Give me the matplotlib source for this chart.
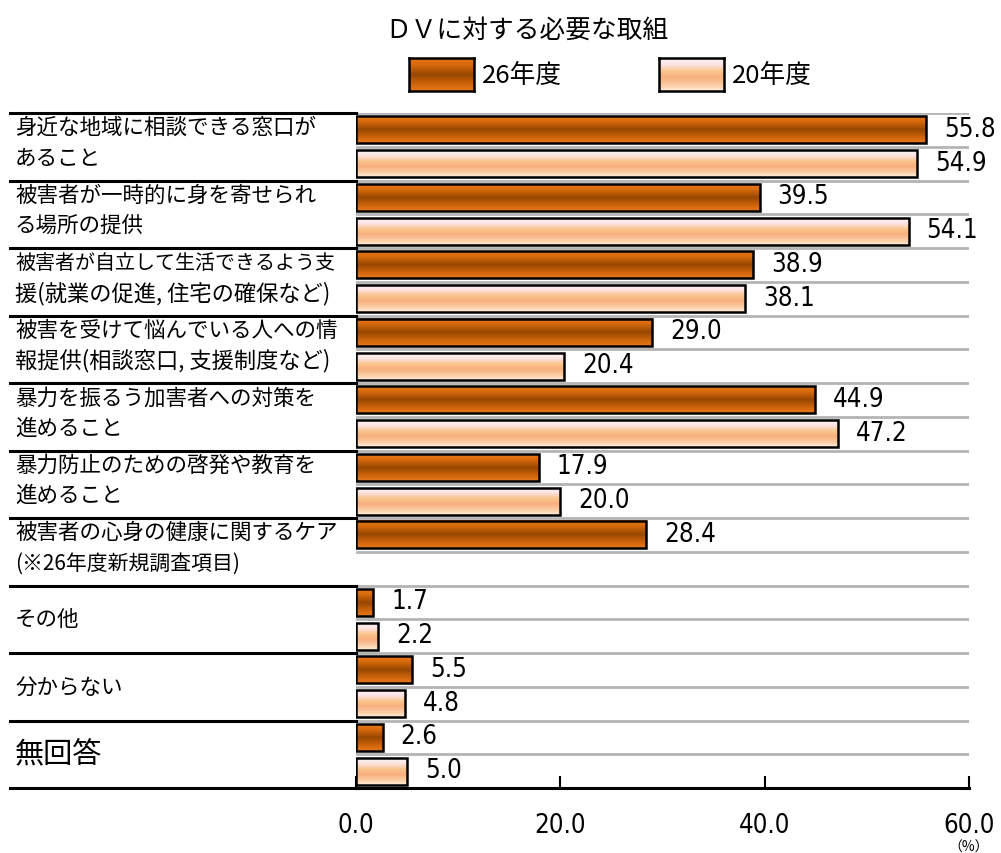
"""
DV support measures: horizontal bar chart, 26年度 vs 20年度.
"""
import matplotlib
matplotlib.use('Agg')
import matplotlib.pyplot as plt
import matplotlib.transforms as mtransforms
from matplotlib.colors import LinearSegmentedColormap
import numpy as np

plt.rcParams['font.family'] = ['Noto Sans CJK JP', 'DejaVu Sans']
NUM_KW = dict(family='DejaVu Sans', fontstretch='condensed')

# ── Data ──────────────────────────────────────────────────────────────────────
title = 'ＤＶに対する必要な取組'
series_names = ['26年度', '20年度']
categories = [
    '身近な地域に相談できる窓口が\nあること',
    '被害者が一時的に身を寄せられ\nる場所の提供',
    '被害者が自立して生活できるよう支\n援(就業の促進, 住宅の確保など)',
    '被害を受けて悩んでいる人への情\n報提供(相談窓口, 支援制度など)',
    '暴力を振るう加害者への対策を\n進めること',
    '暴力防止のための啓発や教育を\n進めること',
    '被害者の心身の健康に関するケア\n(※26年度新規調査項目)',
    'その他',
    '分からない',
    '無回答',
]
vals_26 = [55.8, 39.5, 38.9, 29.0, 44.9, 17.9, 28.4, 1.7, 5.5, 2.6]
vals_20 = [54.9, 54.1, 38.1, 20.4, 47.2, 20.0, np.nan, 2.2, 4.8, 5.0]
xticks = [0, 20, 40, 60]

# ── Gradients ─────────────────────────────────────────────────────────────────
cmap_dark = LinearSegmentedColormap.from_list('dark', [
    (0.0, '#E8781A'), (0.2, '#D86A0C'), (0.5, '#974600'),
    (0.8, '#D0650C'), (1.0, '#E8781A')])
cmap_light = LinearSegmentedColormap.from_list('light', [
    (0.0, '#FFF4F4'), (0.2, '#FCE2E2'), (0.4, '#F9C68C'),
    (0.6, '#F8AE7E'), (0.85, '#FBD0A8'), (1.0, '#FFEEDD')])
grad = np.linspace(0, 1, 64).reshape(-1, 1)

fig = plt.figure(figsize=(10.01, 8.54), dpi=100)
fig.patch.set_facecolor('white')
ax = fig.add_axes([356 / 1001, 1 - 789 / 854, 613 / 1001, 675 / 854])

n = len(categories)
bar_h = 0.8
for i in range(n):
    for j, (v, cm) in enumerate([(vals_26[i], cmap_dark), (vals_20[i], cmap_light)]):
        if np.isnan(v):
            continue
        y = 2 * i + j + 0.5
        ax.imshow(grad, cmap=cm, aspect='auto', interpolation='bilinear',
                  extent=(0, v, y + bar_h / 2, y - bar_h / 2), zorder=2)
        ax.barh(y, v, height=bar_h, fill=False, edgecolor='black',
                linewidth=1.8, zorder=3)
        ax.text(v + 1.75, y - 0.03, f'{v:.1f}', fontsize=18.5,
                ha='left', va='center', color='black', **NUM_KW)

# slot gridlines
for k in range(0, 2 * n):
    ax.axhline(k, color='#B4B4B4', lw=2, zorder=1)

# left category separators and labels
trans = mtransforms.blended_transform_factory(ax.transAxes, ax.transData)
x_left = (10 - 356) / 613
for k in range(0, 2 * n + 1, 2):
    ax.plot([x_left, 0], [k, k], color='black', lw=2.2, transform=trans,
            clip_on=False, zorder=4)
x_text = (15 - 356) / 613
for i, label in enumerate(categories):
    lines = label.split('\n')
    if len(lines) == 2:
        for j, line in enumerate(lines):
            if j == 0:
                fs = 14.4 if len(line) >= 16 else 15.5
            elif '※' in line:
                fs = 15
            else:
                fs = 16 if '(' in line else 15.5
            ax.text(x_text, 2 * i + 0.9 * j + 0.42, line, transform=trans,
                    fontsize=fs, ha='left', va='center')
    else:
        fs = 21 if label == '無回答' else 15.5
        ax.text(x_text, 2 * i + 1.0, label, transform=trans,
                fontsize=fs, ha='left', va='center')

# ── Axes ──────────────────────────────────────────────────────────────────────
ax.set_xlim(0, 60)
ax.set_ylim(2 * n, 0)
ax.set_yticks([])
ax.set_xticks(xticks)
ax.set_xticklabels([f'{t:.1f}' for t in xticks], fontsize=18.5, **NUM_KW)
ax.tick_params(axis='x', direction='in', length=9, width=1.5, pad=17)
for side in ('top', 'right', 'left'):
    ax.spines[side].set_visible(False)
ax.spines['bottom'].set_linewidth(2.2)
ax.spines['bottom'].set_zorder(5)

fig.text(969 / 1001, 1 - 848 / 854, '（%）', fontsize=10, ha='center',
         va='center')

# ── Title & legend ────────────────────────────────────────────────────────────
fig.text(527 / 1001, 1 - 31 / 854, title, fontsize=18.5, ha='center',
         va='center')

legend_items = [(409, 474, cmap_dark, 482), (659, 724, cmap_light, 732)]
for (x0, x1, cm, tx), name in zip(legend_items, series_names):
    lax = fig.add_axes([x0 / 1001, 1 - 92 / 854, (x1 - x0) / 1001, 33 / 854])
    lax.imshow(grad, cmap=cm, aspect='auto', interpolation='bilinear')
    lax.set_xticks([])
    lax.set_yticks([])
    for sp in lax.spines.values():
        sp.set_linewidth(1.8)
    fig.text(tx / 1001, 1 - 76 / 854, name, fontsize=18.5, ha='left',
             va='center')

fig.savefig('out.png', dpi=100, facecolor='white')
